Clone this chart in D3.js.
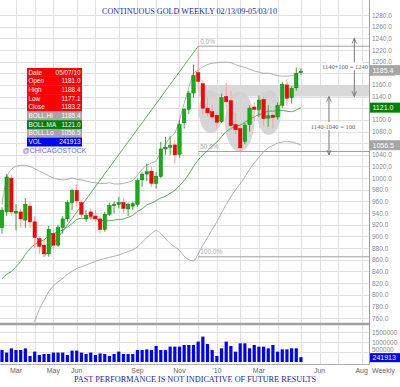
<!DOCTYPE html>
<html>
<head>
<meta charset="utf-8">
<script src="https://cdn.jsdelivr.net/npm/d3@7"></script>
<style>
  body { margin: 0; background: #fff; }
  svg { display: block; font-family: "Liberation Sans", Arial, sans-serif; }
</style>
</head>
<body>
<div id="chart"></div>
<script>
// ---- data (weekly bars, week ending Friday) ----
const weeks = [
  "2009-02-13","2009-02-20","2009-02-27","2009-03-06","2009-03-13","2009-03-20","2009-03-27",
  "2009-04-03","2009-04-10","2009-04-17","2009-04-24","2009-05-01","2009-05-08","2009-05-15",
  "2009-05-22","2009-05-29","2009-06-05","2009-06-12","2009-06-19","2009-06-26","2009-07-03",
  "2009-07-10","2009-07-17","2009-07-24","2009-07-31","2009-08-07","2009-08-14","2009-08-21",
  "2009-08-28","2009-09-04","2009-09-11","2009-09-18","2009-09-25","2009-10-02","2009-10-09",
  "2009-10-16","2009-10-23","2009-10-30","2009-11-06","2009-11-13","2009-11-20","2009-11-27",
  "2009-12-04","2009-12-11","2009-12-18","2009-12-25","2010-01-01","2010-01-08","2010-01-15",
  "2010-01-22","2010-01-29","2010-02-05","2010-02-12","2010-02-19","2010-02-26","2010-03-05",
  "2010-03-12","2010-03-19","2010-03-26","2010-04-02","2010-04-09","2010-04-16","2010-04-23",
  "2010-04-30","2010-05-07"
];
const opens = [915,942,1000,940,942,928,952,925,896,885,870,905,885,915,930,958,979,958,930,942,935,
  930,912,938,953,955,958,947,952,955,997,1007,1012,991,1003,1050,1053,1057,1041,1095,1118,1146,
  1181,1162,1120,1114,1108,1097,1140,1133,1092,1085,1063,1092,1122,1118,1135,1103,1108,1105,1125,
  1160,1138,1155,1181.0];
const highs = [950,1007,1005,955,948,966,960,935,900,895,918,912,920,935,962,982,990,962,945,948,945,
  935,942,958,960,968,965,958,960,1000,1010,1025,1020,1010,1062,1071,1072,1065,1100,1120,1150,1195,
  1226.4,1168,1138,1125,1112,1145,1163,1150,1112,1090,1095,1125,1130,1142,1140,1125,1110,1130,1165,
  1170,1158,1190,1188.4];
const lows = [905,935,935,910,915,915,915,880,870,865,865,877,882,905,925,945,952,930,925,928,925,
  905,908,935,940,948,940,935,945,950,985,995,985,982,1000,1040,1040,1025,1035,1085,1110,1138,
  1150,1108,1105,1100,1085,1095,1120,1082,1075,1044,1058,1080,1098,1105,1090,1088,1085,1100,1120,
  1125,1128,1150,1177.1];
const closes = [945,1002,942,943,930,955,925,898,883,870,912,885,915,930,958,979,961,938,936,934,930,
  912,938,953,955,958,948,955,956,996,1007,1011,991,1003,1050,1053,1056,1040,1092,1118,1146,1176,
  1166,1120,1112,1105,1096,1138,1131,1090,1083,1052,1091,1120,1118,1134,1102,1107,1104,1125,1161,
  1137,1154,1180,1183.2];
const volumes = [600000,470000,680000,600000,600000,680000,300000,520000,350000,400000,400000,470000,
  470000,470000,350000,570000,570000,470000,400000,470000,350000,430000,400000,300000,400000,520000,
  400000,400000,400000,600000,600000,630000,600000,800000,600000,600000,770000,770000,770000,850000,
  850000,850000,1020000,1270000,900000,600000,300000,683000,1020000,800000,517000,933000,933000,
  683000,850000,767000,767000,683000,850000,517000,633000,633000,683000,683000,241913];
const bollUpper = [955,1000,1015,1020,1022,1022,1020,1016,1012,1008,1004,1000,998,997,998,1000,998,
  997,995,993,992,991,991,992,990,990,991,993,996,1005,1015,1022,1026,1030,1045,1058,1070,1078,1100,
  1128,1155,1180,1185,1191,1195,1197,1198,1199,1199,1198,1195,1192,1190,1187,1184,1182,1180,1180,
  1178,1176,1175,1175,1176,1178,1185.4];
const bollMid = [827,835,840,848,857,869,879,886,891,894,902,905,908,911,916,922,929,931,931,932,931,
  927,927,927,928,929,930,933,936,943,947,954,957,961,966,969,974,979,987,996,1007,1020,1031,1040,
  1047,1055,1062,1071,1080,1085,1089,1091,1096,1101,1105,1109,1111,1115,1115,1116,1116,1115,1114,
  1117,1121.0];
const bollLower = [700,672,665,676,692,716,738,755,775,790,805,815,822,828,835,840,845,848,851,854,
  857,860,862,864,866,868,871,874,877,882,890,898,905,910,905,896,888,882,876,866,860,858,870,885,
  898,912,925,940,955,968,980,990,1002,1015,1026,1036,1045,1052,1056,1060,1062,1063,1062,1060,1056.5];

// tick labels
const priceTicks = d3.range(760, 1281, 20);
const volumeTicks = [500000, 1000000, 1500000];
const monthLabels = [
  ["2009-03-06","Mar"],["2009-05-01","May"],["2009-06-05","Jun"],["2009-09-04","Sep"],
  ["2009-11-06","Nov"],["2010-01-01","'10"],["2010-03-05","Mar"],["2010-06-04","Jun"],["2010-08-06","Aug"]
];

// annotations
const fibLevels = [["0.0%", 1226.4], ["50.0%", 1045.7], ["100.0%", 865.0]];
const fibStart = "2009-12-04";
const trendPoints = [["2009-04-17", 865.0], ["2009-12-04", 1226.4]];
const band = { from: "2009-12-04", low: 1140, high: 1160 };
const ellipses = [
  { date: "2009-12-23", price: 1114, days: 18, span: 37 },
  { date: "2010-02-04", price: 1097, days: 22.5, span: 51.5 },
  { date: "2010-03-20", price: 1112.6, days: 18.7, span: 38.6 }
];
const arrows = [
  { date: "2010-07-26", from: 1140, to: 1240, text: "1140+100 = 1240", textDate: "2010-07-12", textPrice: 1192 },
  { date: "2010-06-18", from: 1140, to: 1040, text: "1140-1040 = 100", textDate: "2010-06-24", textPrice: 1089 }
];
const infoLabels = ["Date","Open","High","Low","Close","BOLL.Hi","BOLL.MA","BOLL.Lo","VOL"];
const infoValues = ["05/07/10","1181.0","1188.4","1177.1","1183.2","1185.4","1121.0","1056.5","241913"];
const infoColors = ["#ff0000","#ff0000","#ff0000","#ff0000","#ff0000","#a6a6a6","#008000","#a6a6a6","#0000ff"];
const sideBoxes = [
  { value: 1185.4, text: "1185.4", fill: "#a6a6a6" },
  { value: 1121.0, text: "1121.0", fill: "#008000" },
  { value: 1056.5, text: "1056.5", fill: "#a6a6a6" }
];

// ---- layout ----
const width = 400, height = 387;
const plotRight = 369;
const priceTop = 0, priceBottom = 322;
const volTop = 326, volBottom = 362;

const parse = d3.timeParse("%Y-%m-%d");
const x = d3.scaleTime()
  .domain([parse("2009-02-10"), parse("2010-08-17")])
  .range([0, plotRight]);
const y = d3.scaleLinear().domain([753.1, 1305.7]).range([priceBottom, priceTop]);
const yVol = d3.scaleLinear().domain([0, 1500000]).range([volBottom, 332]);

const bars = weeks.map((w, i) => ({
  date: parse(w), o: opens[i], h: highs[i], l: lows[i], c: closes[i],
  v: volumes[i], up: bollUpper[i], ma: bollMid[i], lo: bollLower[i]
}));

const svg = d3.select("#chart").append("svg")
  .attr("width", width).attr("height", height);

const defs = svg.append("defs");
defs.append("clipPath").attr("id", "priceClip")
  .append("rect").attr("x", 0).attr("y", priceTop).attr("width", plotRight).attr("height", priceBottom - priceTop);
defs.append("marker").attr("id", "arrowhead")
  .attr("viewBox", "0 0 8 8").attr("refX", 7).attr("refY", 4)
  .attr("markerWidth", 6).attr("markerHeight", 6)
  .attr("orient", "auto-start-reverse")
  .append("path").attr("d", "M0,1 L7,4 L0,7").attr("fill", "none").attr("stroke", "#777").attr("stroke-width", 1.2);

// --- grid ---
const monthGrid = d3.timeMonth.range(x.domain()[0], x.domain()[1])
  .map(m => d3.timeFriday.ceil(m))
  .filter(d => d <= x.domain()[1]);

const grid = svg.append("g").attr("stroke", "#e0e0e0").attr("shape-rendering", "crispEdges");
grid.selectAll(".hg").data(priceTicks).join("line")
  .attr("x1", 0).attr("x2", plotRight)
  .attr("y1", d => Math.round(y(d)) + 0.5).attr("y2", d => Math.round(y(d)) + 0.5);
grid.selectAll(".vg").data(monthGrid).join("line")
  .attr("x1", d => Math.round(x(d)) + 0.5).attr("x2", d => Math.round(x(d)) + 0.5)
  .attr("y1", 0).attr("y2", volBottom + 2);
grid.selectAll(".vvg").data(volumeTicks).join("line")
  .attr("x1", 0).attr("x2", plotRight)
  .attr("y1", d => Math.round(yVol(d)) + 0.5).attr("y2", d => Math.round(yVol(d)) + 0.5);

const price = svg.append("g").attr("clip-path", "url(#priceClip)");

// --- grey band and ellipses ---
price.append("rect")
  .attr("x", x(parse(band.from)))
  .attr("y", y(band.high))
  .attr("width", plotRight - x(parse(band.from)))
  .attr("height", y(band.low) - y(band.high))
  .attr("fill", "#d9d9d9");

price.selectAll(".ell").data(ellipses).join("ellipse")
  .attr("cx", d => x(parse(d.date)))
  .attr("cy", d => y(d.price))
  .attr("rx", d => x(d3.timeDay.offset(parse(d.date), d.days)) - x(parse(d.date)))
  .attr("ry", d => y(d.price - d.span) - y(d.price))
  .attr("fill", "#cfcfcf").attr("opacity", 0.85);

// --- fib lines ---
price.selectAll(".fib").data(fibLevels).join("line")
  .attr("x1", x(parse(fibStart))).attr("x2", plotRight)
  .attr("y1", d => y(d[1])).attr("y2", d => y(d[1]))
  .attr("stroke", "#a0a0a0").attr("stroke-width", 1);

// --- bollinger bands ---
const lineOf = acc => d3.line().x(d => x(d.date)).y(d => y(acc(d))).curve(d3.curveMonotoneX);
price.append("path").datum(bars).attr("d", lineOf(d => d.up))
  .attr("fill", "none").attr("stroke", "#9a9a9a").attr("stroke-width", 0.8);
price.append("path").datum(bars).attr("d", lineOf(d => d.lo))
  .attr("fill", "none").attr("stroke", "#9a9a9a").attr("stroke-width", 0.8);
price.append("path").datum(bars).attr("d", lineOf(d => d.ma))
  .attr("fill", "none").attr("stroke", "#4a9e4a").attr("stroke-width", 0.9);

// --- trend line ---
price.append("line")
  .attr("x1", x(parse(trendPoints[0][0]))).attr("y1", y(trendPoints[0][1]))
  .attr("x2", x(parse(trendPoints[1][0]))).attr("y2", y(trendPoints[1][1]))
  .attr("stroke", "#3d9a3d").attr("stroke-width", 0.8);

// --- candles ---
const bodyW = 3.4;
const candle = price.selectAll(".candle").data(bars).join("g");
candle.append("line")
  .attr("x1", d => x(d.date)).attr("x2", d => x(d.date))
  .attr("y1", d => y(d.h)).attr("y2", d => y(d.l))
  .attr("stroke", d => d.c >= d.o ? "#3aa33a" : "#ff9c9c").attr("stroke-width", 1);
candle.append("rect")
  .attr("x", d => x(d.date) - bodyW / 2)
  .attr("y", d => y(Math.max(d.o, d.c)))
  .attr("width", bodyW)
  .attr("height", d => Math.max(1, Math.abs(y(d.o) - y(d.c))))
  .attr("fill", d => d.c >= d.o ? "#12b012" : "#ff0000")
  .attr("stroke", d => d.c >= d.o ? "#0a7d0a" : "#e00000")
  .attr("stroke-width", 0.5);

// --- fib labels ---
svg.selectAll(".fibLabel").data(fibLevels).join("text")
  .attr("x", x(parse(fibStart)) + 2).attr("y", d => y(d[1]) - 2.5)
  .attr("font-size", 6.5).attr("fill", "#aaa").text(d => d[0]);

// --- arrows with labels ---
svg.selectAll(".arrow").data(arrows).join("line")
  .attr("x1", d => x(parse(d.date))).attr("x2", d => x(parse(d.date)))
  .attr("y1", d => y(d.from)).attr("y2", d => y(d.to))
  .attr("stroke", "#777").attr("stroke-width", 1)
  .attr("marker-start", "url(#arrowhead)").attr("marker-end", "url(#arrowhead)");
const arrowText = svg.selectAll(".arrowText").data(arrows).join("g")
  .attr("transform", d => `translate(${x(parse(d.textDate))},${y(d.textPrice)})`);
arrowText.append("rect").attr("x", -18).attr("y", -4).attr("width", 36).attr("height", 8).attr("fill", "#fff");
arrowText.append("text").attr("text-anchor", "middle").attr("y", 2.5)
  .attr("font-family", "'Liberation Serif', 'Times New Roman', serif")
  .attr("font-size", 6.5).attr("fill", "#666").text(d => d.text);

// --- volume ---
svg.append("g").selectAll("rect").data(bars).join("rect")
  .attr("x", d => x(d.date) - 1.6)
  .attr("y", d => yVol(d.v))
  .attr("width", 3.2)
  .attr("height", d => volBottom - yVol(d.v))
  .attr("fill", "#0000ff");

// --- frame ---
svg.append("line").attr("x1", 0).attr("x2", plotRight).attr("y1", 324).attr("y2", 324)
  .attr("stroke", "#a0a0a0").attr("stroke-width", 2.5);
svg.append("line").attr("x1", 0).attr("x2", plotRight).attr("y1", volBottom + 2.5).attr("y2", volBottom + 2.5)
  .attr("stroke", "#b0b0b0").attr("stroke-width", 1);
svg.append("line").attr("x1", plotRight + 0.5).attr("x2", plotRight + 0.5).attr("y1", 0).attr("y2", volBottom + 3)
  .attr("stroke", "#a0a0a0").attr("stroke-width", 1);

// --- right axes (labels under the value boxes are left out, they are covered there) ---
const covered = v => sideBoxes.some(b => Math.abs(y(b.value) - y(v)) < 8);
svg.append("g")
  .attr("transform", `translate(${plotRight},0)`)
  .call(d3.axisRight(y).tickValues(priceTicks.filter(v => !covered(v)))
    .tickSize(0).tickPadding(3).tickFormat(d3.format(".1f")))
  .call(g => g.select(".domain").remove())
  .call(g => g.selectAll("text").attr("font-size", 6.5).attr("fill", "#8a8a8a").attr("font-family", null));

svg.append("g")
  .attr("transform", `translate(${plotRight},0)`)
  .call(d3.axisRight(yVol).tickValues(volumeTicks).tickSize(0).tickPadding(3).tickFormat(d3.format("d")))
  .call(g => g.select(".domain").remove())
  .call(g => g.selectAll("text").attr("font-size", 6.5).attr("fill", "#8a8a8a").attr("font-family", null)
    .attr("dy", (d, i) => i === 0 ? "-0.05em" : "0.32em"));

const boxes = svg.selectAll(".sideBox").data(sideBoxes).join("g")
  .attr("transform", d => `translate(${plotRight + 1},${y(d.value) - 5})`);
boxes.append("rect").attr("width", 31).attr("height", 10).attr("fill", d => d.fill);
boxes.append("text").attr("x", 2.5).attr("y", 7.5).attr("font-size", 7).attr("fill", "#fff").text(d => d.text);
svg.append("line").attr("x1", plotRight + 1).attr("x2", plotRight + 26)
  .attr("y1", y(1185.4) + 5.5).attr("y2", y(1185.4) + 5.5)
  .attr("stroke", "#f4a0a0").attr("stroke-width", 1);

const lastVol = volumes[volumes.length - 1];
const vbox = svg.append("g").attr("transform", `translate(${plotRight + 1},${yVol(lastVol) - 4})`);
vbox.append("rect").attr("width", 31).attr("height", 9).attr("fill", "#0000ff");
vbox.append("text").attr("x", 2.5).attr("y", 7).attr("font-size", 7).attr("fill", "#fff").text(d3.format("d")(lastVol));

// --- date labels ---
svg.selectAll(".month").data(monthLabels).join("text")
  .attr("x", d => x(parse(d[0]))).attr("y", 373)
  .attr("text-anchor", "middle").attr("font-size", 7).attr("fill", "#666")
  .text(d => d[1]);
svg.append("text").attr("x", 372).attr("y", 373).attr("font-size", 7).attr("fill", "#666").text("Weekly");

// --- info box ---
const rowH = 8.7, boxX = 27, boxW = 55, boxY = 68;
const info = svg.append("g").attr("transform", `translate(${boxX},${boxY})`);
const rows = info.selectAll("g").data(infoLabels).join("g")
  .attr("transform", (d, i) => `translate(0,${i * rowH})`);
rows.append("rect").attr("width", boxW).attr("height", rowH + 0.2).attr("fill", (d, i) => infoColors[i]);
rows.append("text").attr("x", 1.5).attr("y", 6.6).attr("font-size", 6.4).attr("fill", "#fff").text(d => d);
rows.append("text").attr("x", boxW - 1.5).attr("y", 6.6).attr("text-anchor", "end")
  .attr("font-size", 6.4).attr("fill", "#fff").text((d, i) => infoValues[i]);
svg.append("text").attr("x", boxX + boxW / 2).attr("y", boxY + rowH * infoLabels.length + 7)
  .attr("text-anchor", "middle").attr("font-size", 7).attr("fill", "#6a6ad4").text("@CHICAGOSTOCK");

// --- titles ---
svg.append("text").attr("x", 102).attr("y", 13.5)
  .attr("font-family", "'Liberation Serif', 'Times New Roman', serif")
  .attr("font-size", 9).attr("fill", "#1c1caa")
  .attr("textLength", 175).attr("lengthAdjust", "spacingAndGlyphs")
  .text("CONTINUOUS GOLD WEEKLY 02/13/09-05/03/10");
svg.append("text").attr("x", 74).attr("y", 382)
  .attr("font-family", "'Liberation Serif', 'Times New Roman', serif")
  .attr("font-size", 9).attr("fill", "#1c1caa")
  .attr("textLength", 242).attr("lengthAdjust", "spacingAndGlyphs")
  .text("PAST PERFORMANCE IS NOT INDICATIVE OF FUTURE RESULTS");
</script>
</body>
</html>
